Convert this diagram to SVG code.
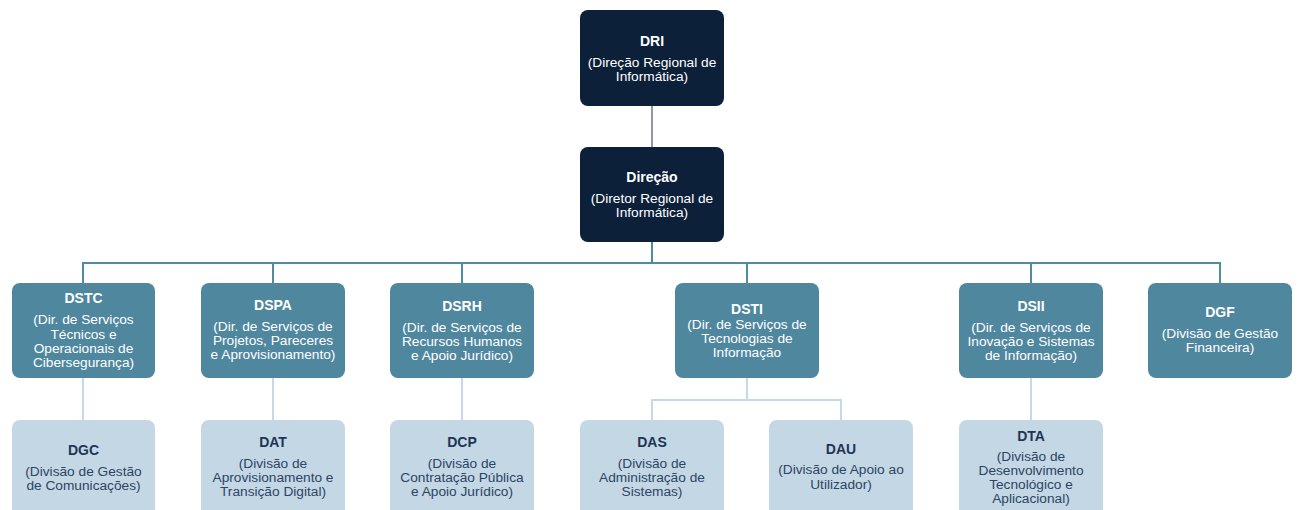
<svg xmlns="http://www.w3.org/2000/svg" width="1297" height="510" viewBox="0 0 1297 510">
<style>
text{font-family:"Liberation Sans",Arial,sans-serif;text-anchor:middle}
.t{font-size:14px;font-weight:bold}
.b{font-size:13.7px}
.dark rect{fill:#0c2039}
.mid rect{fill:#4f879f}
.light rect{fill:#c4d7e4}
.dark text,.mid text{fill:#ffffff}
.light .t{fill:#1e3555}
.light .b{fill:#2b4565}
.c1{stroke:#8e99a8;stroke-width:2;fill:none}
.c2{stroke:#4f8ca0;stroke-width:2;fill:none}
.c3{stroke:#c6d9e7;stroke-width:2;fill:none}
</style>
<rect width="1297" height="510" fill="#ffffff"/>
<g id="connectors">
<path class="c1" d="M652 106V147"/>
<path class="c2" d="M652 242V263M83 283V263H1220V283M273 263V283M462 263V283M747 263V283M1031 263V283"/>
<path class="c3" d="M83 378V420M273 378V420M462 378V420M1031 378V420M747 378V400M652 420V400H841V420"/>
</g>
<g id="DRI" class="dark"><rect x="580" y="10" width="144" height="96" rx="8"/>
<text class="t" x="652" y="46">DRI</text>
<text class="b" x="652" y="67">(Direção Regional de</text>
<text class="b" x="652" y="81">Informática)</text></g>
<g id="Direcao" class="dark"><rect x="580" y="147" width="144" height="95" rx="8"/>
<text class="t" x="652" y="182">Direção</text>
<text class="b" x="652" y="203">(Diretor Regional de</text>
<text class="b" x="652" y="217">Informática)</text></g>
<g id="DSTC" class="mid"><rect x="12" y="283" width="143" height="95" rx="8"/>
<text class="t" x="83.5" y="303">DSTC</text>
<text class="b" x="83.5" y="324">(Dir. de Serviços</text>
<text class="b" x="83.5" y="338.5">Técnicos e</text>
<text class="b" x="83.5" y="353">Operacionais de</text>
<text class="b" x="83.5" y="367">Cibersegurança)</text></g>
<g id="DSPA" class="mid"><rect x="201" y="283" width="144" height="95" rx="8"/>
<text class="t" x="273" y="310">DSPA</text>
<text class="b" x="273" y="331">(Dir. de Serviços de</text>
<text class="b" x="273" y="345">Projetos, Pareceres</text>
<text class="b" x="273" y="359">e Aprovisionamento)</text></g>
<g id="DSRH" class="mid"><rect x="390" y="283" width="144" height="95" rx="8"/>
<text class="t" x="462" y="311">DSRH</text>
<text class="b" x="462" y="332">(Dir. de Serviços de</text>
<text class="b" x="462" y="346">Recursos Humanos</text>
<text class="b" x="462" y="360">e Apoio Jurídico)</text></g>
<g id="DSTI" class="mid"><rect x="675" y="283" width="144" height="95" rx="8"/>
<text class="t" x="747" y="314">DSTI</text>
<text class="b" x="747" y="329">(Dir. de Serviços de</text>
<text class="b" x="747" y="343">Tecnologias de</text>
<text class="b" x="747" y="357">Informação</text></g>
<g id="DSII" class="mid"><rect x="959" y="283" width="144" height="95" rx="8"/>
<text class="t" x="1031" y="311">DSII</text>
<text class="b" x="1031" y="332">(Dir. de Serviços de</text>
<text class="b" x="1031" y="346">Inovação e Sistemas</text>
<text class="b" x="1031" y="360">de Informação)</text></g>
<g id="DGF" class="mid"><rect x="1148" y="283" width="144" height="95" rx="8"/>
<text class="t" x="1220" y="317">DGF</text>
<text class="b" x="1220" y="338">(Divisão de Gestão</text>
<text class="b" x="1220" y="352">Financeira)</text></g>
<g id="DGC" class="light"><rect x="12" y="420" width="143" height="120" rx="8"/>
<text class="t" x="83.5" y="455">DGC</text>
<text class="b" x="83.5" y="476">(Divisão de Gestão</text>
<text class="b" x="83.5" y="490">de Comunicações)</text></g>
<g id="DAT" class="light"><rect x="201" y="420" width="144" height="120" rx="8"/>
<text class="t" x="273" y="447">DAT</text>
<text class="b" x="273" y="468">(Divisão de</text>
<text class="b" x="273" y="482">Aprovisionamento e</text>
<text class="b" x="273" y="496">Transição Digital)</text></g>
<g id="DCP" class="light"><rect x="390" y="420" width="144" height="120" rx="8"/>
<text class="t" x="462" y="447">DCP</text>
<text class="b" x="462" y="468">(Divisão de</text>
<text class="b" x="462" y="482">Contratação Pública</text>
<text class="b" x="462" y="496">e Apoio Jurídico)</text></g>
<g id="DAS" class="light"><rect x="580" y="420" width="144" height="120" rx="8"/>
<text class="t" x="652" y="447">DAS</text>
<text class="b" x="652" y="468">(Divisão de</text>
<text class="b" x="652" y="482">Administração de</text>
<text class="b" x="652" y="496">Sistemas)</text></g>
<g id="DAU" class="light"><rect x="769" y="420" width="144" height="120" rx="8"/>
<text class="t" x="841" y="454">DAU</text>
<text class="b" x="841" y="474">(Divisão de Apoio ao</text>
<text class="b" x="841" y="489">Utilizador)</text></g>
<g id="DTA" class="light"><rect x="959" y="420" width="144" height="120" rx="8"/>
<text class="t" x="1031" y="441">DTA</text>
<text class="b" x="1031" y="461">(Divisão de</text>
<text class="b" x="1031" y="475">Desenvolvimento</text>
<text class="b" x="1031" y="489">Tecnológico e</text>
<text class="b" x="1031" y="503">Aplicacional)</text></g>
</svg>
